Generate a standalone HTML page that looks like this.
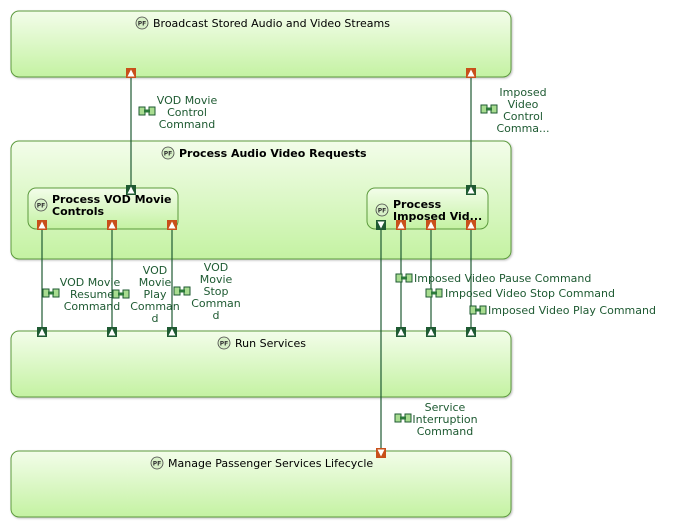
<!DOCTYPE html>
<html><head><meta charset="utf-8"><style>
html,body{margin:0;padding:0;background:#fff;}
svg{display:block;font-family:"DejaVu Sans","Liberation Sans",sans-serif;}
.t{font-size:11px;fill:#000;}
.b{font-size:11px;font-weight:bold;fill:#000;}
.l{font-size:11px;fill:#1e5a32;}
</style></head><body>
<svg width="675" height="530" viewBox="0 0 675 530" xmlns="http://www.w3.org/2000/svg">
<defs>
<linearGradient id="g" x1="0" y1="0" x2="0" y2="1">
<stop offset="0" stop-color="#f3fdea"/><stop offset="1" stop-color="#c4f2a2"/></linearGradient>
<g id="pf"><circle cx="0" cy="0" r="6" fill="#d8f0c8" stroke="#444" stroke-width="0.8"/><text x="0" y="2.5" font-size="6" text-anchor="middle" fill="#333" font-weight="bold">PF</text></g>
<g id="ou"><rect x="-5" y="-5" width="10" height="10" fill="#c8501a"/><path d="M0,-3.5 L3.5,3.5 L-3.5,3.5Z" fill="#fff"/></g>
<g id="od"><rect x="-5" y="-5" width="10" height="10" fill="#c8501a"/><path d="M0,3.5 L3.5,-3.5 L-3.5,-3.5Z" fill="#fff"/></g>
<g id="gu"><rect x="-5" y="-5" width="10" height="10" fill="#1e5a32"/><path d="M0,-3.5 L3.5,3.5 L-3.5,3.5Z" fill="#fff"/></g>
<g id="gd"><rect x="-5" y="-5" width="10" height="10" fill="#1e5a32"/><path d="M0,3.5 L3.5,-3.5 L-3.5,-3.5Z" fill="#fff"/></g>
<g id="it"><rect x="0" y="0" width="6" height="8" fill="#a8dc90" stroke="#1e5a32"/><rect x="10" y="0" width="6" height="8" fill="#a8dc90" stroke="#1e5a32"/><rect x="5" y="2.5" width="6" height="3" fill="#2c7a3a"/></g>
<filter id="sh"><feDropShadow dx="1" dy="1" stdDeviation="1" flood-opacity="0.25"/></filter>
</defs>
<g fill="url(#g)" stroke="#5c9a3c" stroke-width="1" filter="url(#sh)">
<rect x="11" y="11" width="500" height="66" rx="8"/>
<rect x="11" y="141" width="500" height="118" rx="8"/>
<rect x="28" y="188" width="150" height="41" rx="8"/>
<rect x="367" y="188" width="121" height="41" rx="8"/>
<rect x="11" y="331" width="500" height="66" rx="8"/>
<rect x="11" y="451" width="500" height="66" rx="8"/>
</g>
<use href="#pf" x="142" y="23"/><text class="t" x="153" y="27">Broadcast Stored Audio and Video Streams</text>
<use href="#pf" x="168" y="153"/><text class="b" x="179" y="157">Process Audio Video Requests</text>
<use href="#pf" x="41" y="205"/><text class="b" x="52" y="203">Process VOD Movie</text><text class="b" x="52" y="215">Controls</text>
<use href="#pf" x="382" y="210"/><text class="b" x="393" y="208">Process</text><text class="b" x="393" y="220">Imposed Vid...</text>
<use href="#pf" x="224" y="343"/><text class="t" x="235" y="347">Run Services</text>
<use href="#pf" x="157" y="463"/><text class="t" x="168" y="467">Manage Passenger Services Lifecycle</text>
<g stroke="#1e5a32" stroke-width="1.2">
<line x1="131" y1="78" x2="131" y2="186"/><line x1="471" y1="78" x2="471" y2="186"/>
<line x1="42" y1="230" x2="42" y2="327"/><line x1="112" y1="230" x2="112" y2="327"/><line x1="172" y1="230" x2="172" y2="327"/>
<line x1="401" y1="230" x2="401" y2="327"/><line x1="431" y1="230" x2="431" y2="327"/><line x1="471" y1="230" x2="471" y2="327"/>
<line x1="381" y1="230" x2="381" y2="448"/>
</g>
<use href="#ou" x="131" y="73"/><use href="#ou" x="471" y="73"/>
<use href="#gu" x="131" y="190"/><use href="#gu" x="471" y="190"/>
<use href="#ou" x="42" y="225"/><use href="#ou" x="112" y="225"/><use href="#ou" x="172" y="225"/>
<use href="#gd" x="381" y="225"/><use href="#ou" x="401" y="225"/><use href="#ou" x="431" y="225"/><use href="#ou" x="471" y="225"/>
<use href="#gu" x="42" y="332"/><use href="#gu" x="112" y="332"/><use href="#gu" x="172" y="332"/>
<use href="#gu" x="401" y="332"/><use href="#gu" x="431" y="332"/><use href="#gu" x="471" y="332"/>
<use href="#od" x="381" y="453"/>
<use href="#it" x="139" y="107"/>
<text class="l" text-anchor="middle"><tspan x="187" y="104">VOD Movie</tspan><tspan x="187" y="116">Control</tspan><tspan x="187" y="128">Command</tspan></text>
<use href="#it" x="481" y="105"/>
<text class="l" text-anchor="middle"><tspan x="523" y="96">Imposed</tspan><tspan x="523" y="108">Video</tspan><tspan x="523" y="120">Control</tspan><tspan x="523" y="132">Comma...</tspan></text>
<use href="#it" x="43" y="289"/>
<text class="l" text-anchor="middle"><tspan x="90" y="286">VOD Movie</tspan><tspan x="92" y="298">Resume</tspan><tspan x="92" y="310">Command</tspan></text>
<use href="#it" x="113" y="290"/>
<text class="l" text-anchor="middle"><tspan x="155" y="274">VOD</tspan><tspan x="155" y="286">Movie</tspan><tspan x="155" y="298">Play</tspan><tspan x="155" y="310">Comman</tspan><tspan x="155" y="322">d</tspan></text>
<use href="#it" x="174" y="287"/>
<text class="l" text-anchor="middle"><tspan x="216" y="271">VOD</tspan><tspan x="216" y="283">Movie</tspan><tspan x="216" y="295">Stop</tspan><tspan x="216" y="307">Comman</tspan><tspan x="216" y="319">d</tspan></text>
<use href="#it" x="396" y="274"/><text class="l" x="414" y="282">Imposed Video Pause Command</text>
<use href="#it" x="426" y="289"/><text class="l" x="445" y="297">Imposed Video Stop Command</text>
<use href="#it" x="470" y="306"/><text class="l" x="488" y="314">Imposed Video Play Command</text>
<use href="#it" x="395" y="414"/>
<text class="l" text-anchor="middle"><tspan x="445" y="411">Service</tspan><tspan x="445" y="423">Interruption</tspan><tspan x="445" y="435">Command</tspan></text>
</svg>
</body></html>
